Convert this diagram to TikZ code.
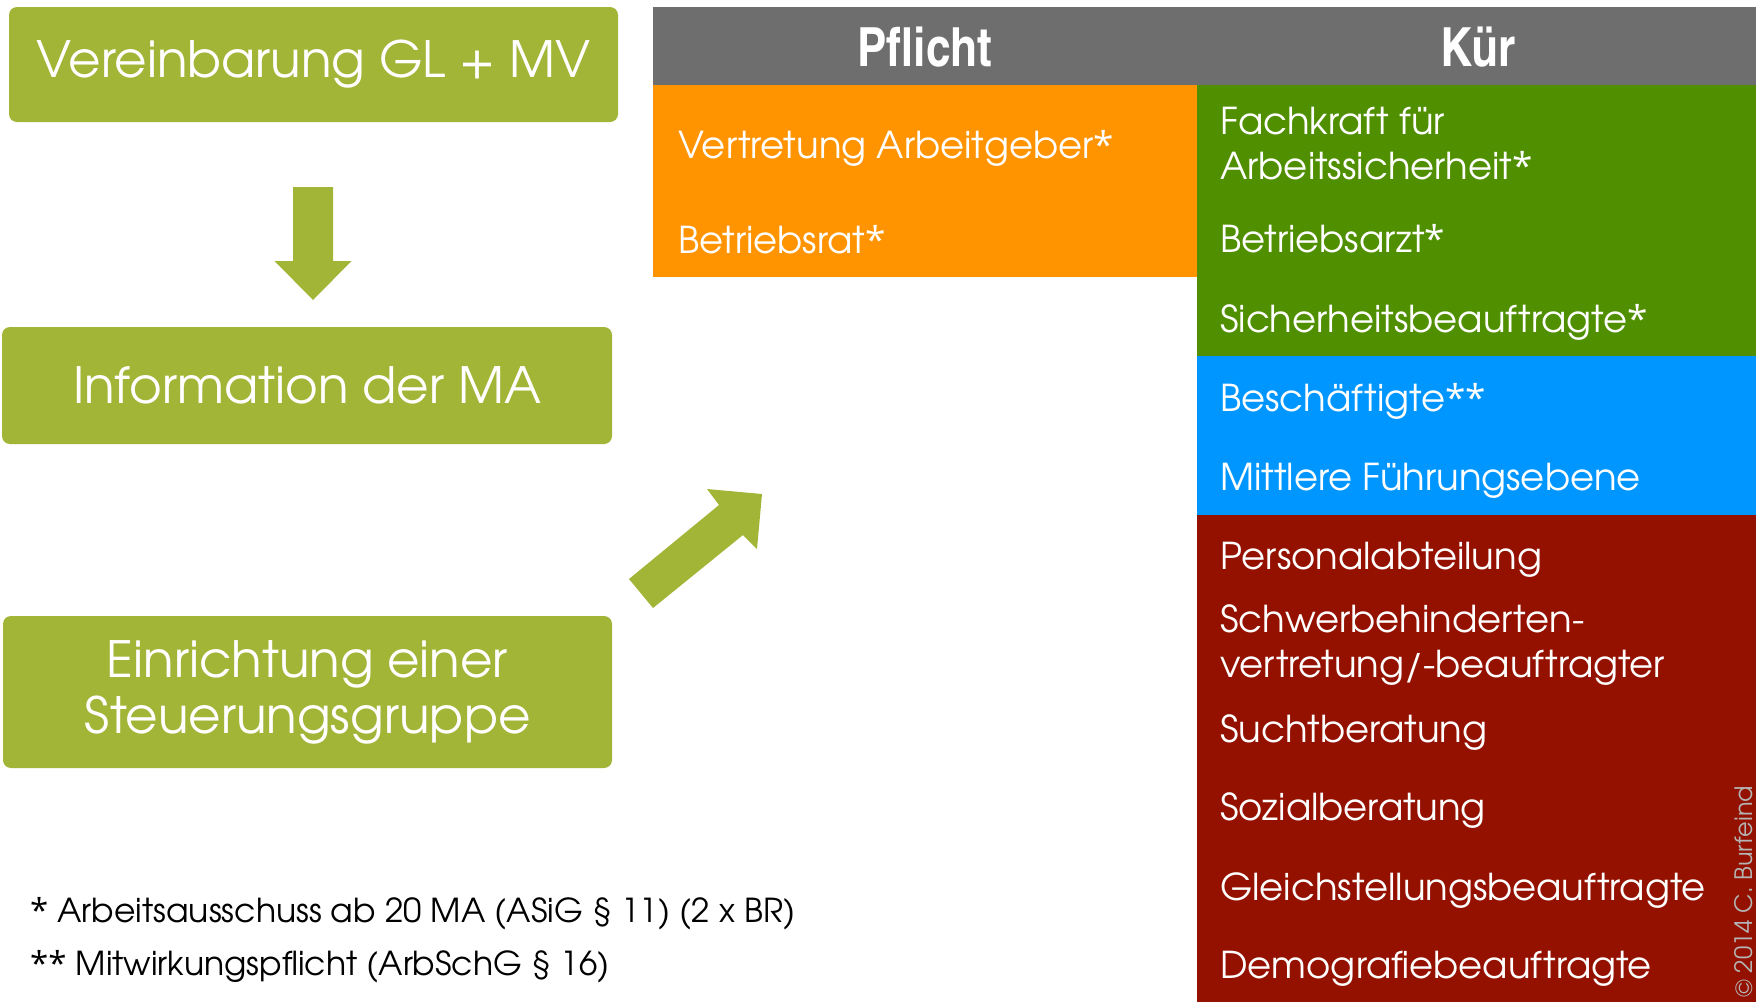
\documentclass[tikz,border=0pt]{standalone}
\usepackage{fontspec}
\setmainfont{TeX Gyre Adventor}
\newfontfamily\headfont{texgyreheroscn-bold}[Extension=.otf]
\newfontfamily\starfont{Open Sans}
\newcommand{\lightstar}{{\starfont *}}

\definecolor{stepgreen}{HTML}{A2B537}
\definecolor{headgray}{HTML}{6E6E6E}
\definecolor{pflichtorange}{HTML}{FF9300}
\definecolor{kuergreen}{HTML}{4F8F00}
\definecolor{kuerblue}{HTML}{0096FF}
\definecolor{kuerred}{HTML}{941100}
\definecolor{signgray}{HTML}{B4B4B4}

\tikzset{
  stepbox/.style={fill=stepgreen, rounded corners=8pt, text=white, align=center,
    font=\fontsize{50}{56}\selectfont},
  headtext/.style={text=white, font=\headfont\fontsize{54}{58}\selectfont},
  cell/.style={anchor=base west, inner sep=0pt, text=white, font=\fontsize{37}{42}\selectfont},
  footnote/.style={anchor=base west, inner sep=0pt, text=black, font=\fontsize{33}{38}\selectfont},
  blockarrow/.style={fill=stepgreen}
}

\begin{document}
\begin{tikzpicture}[x=1pt, y=-1pt]
  \useasboundingbox (0,0) rectangle (1756,1002);

  % 1. LINKE SPALTE: Ablauf
  \node[stepbox, minimum width=609pt, minimum height=115pt] (vereinbarung) at (313.5,64.5) {Vereinbarung GL + MV};
  \node[stepbox, minimum width=610pt, minimum height=117pt] (information) at (307,385.5) {Information der MA};
  \node[stepbox, minimum width=609pt, minimum height=152pt] (steuerung) at (307.5,692) {Einrichtung einer\\Steuerungsgruppe};

  % Pfeil nach unten
  \fill[blockarrow] (293,187) -- (333,187) -- (333,261) -- (351.5,261) -- (313,300)
    -- (274.5,261) -- (293,261) -- cycle;
  % Pfeil schraeg nach oben
  \fill[blockarrow] (629,579) -- (719,505) -- (707,489) -- (762,494) -- (757,549)
    -- (743,535) -- (653,608) -- cycle;

  % 2. TABELLE: Kopfzeile
  \fill[headgray] (653,7) rectangle (1756,85);
  \node[headtext] (pflicht) at (925,47) {Pflicht};
  \node[headtext] (kuer) at (1478,47) {Kür};

  % Farbflaechen
  \fill[pflichtorange] (653,85) rectangle (1197,277);
  \fill[kuergreen] (1197,85) rectangle (1756,356);
  \fill[kuerblue] (1197,356) rectangle (1756,515);
  \fill[kuerred] (1197,515) rectangle (1756,1002);

  % Eintraege Pflicht
  \foreach \y/\t [count=\i] in {158/Vertretung Arbeitgeber\lightstar, 253/Betriebsrat\lightstar}
    \node[cell] (pflicht\i) at (678,\y) {\t};

  % Eintraege Kuer
  \foreach \y/\t [count=\i] in {134/Fachkraft für, 179/Arbeitssicherheit\lightstar, 252/Betriebsarzt\lightstar,
      332/Sicherheitsbeauftragte\lightstar, 411/Beschäftigte\lightstar\lightstar, 490/Mittlere Führungsebene,
      569/Personalabteilung, 632/Schwerbehinderten-, 677/{vertretung/-beauftragter},
      742/Suchtberatung, 820/Sozialberatung, 900/Gleichstellungsbeauftragte,
      978/Demografiebeauftragte}
    \node[cell] (kuer\i) at (1220,\y) {\t};

  % 3. FUSSNOTEN
  \node[footnote] (note1) at (30,922) {\lightstar{} Arbeitsausschuss ab 20 MA (ASiG § 11) (2 x BR)};
  \node[footnote] (note2) at (30,975) {\lightstar\lightstar{} Mitwirkungspflicht (ArbSchG § 16)};

  % Copyright
  \node[rotate=90, anchor=base west, inner sep=0pt, text=signgray,
    font=\fontsize{24}{28}\selectfont] (sign) at (1752,998) {© 2014 C. Burfeind};
\end{tikzpicture}
\end{document}
